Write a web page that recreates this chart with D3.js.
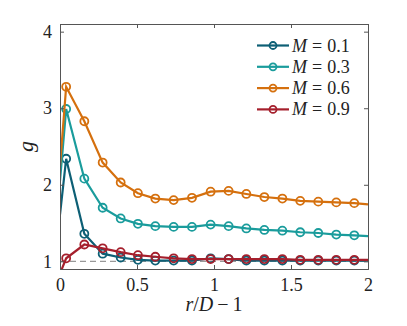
<!DOCTYPE html>
<html>
<head>
<meta charset="utf-8">
<script src="https://cdn.jsdelivr.net/npm/d3@7"></script>
<style>
  body { margin: 0; background: #fff; }
  svg { display: block; }
</style>
</head>
<body>
<svg id="chart" width="407" height="326" font-family="Liberation Serif"></svg>
<script>
// marker positions along r/D - 1
const xMarkers = [0.04, 0.158, 0.277, 0.394, 0.506, 0.619, 0.738, 0.857, 0.978,
                  1.095, 1.21, 1.327, 1.444, 1.56, 1.677, 1.794, 1.911];

// series names and colours
const labels = ["0.1", "0.3", "0.6", "0.9"];
const colors = ["#0d5f75", "#1a9c9c", "#d5700e", "#a51f2c"];

// g at r/D-1 = 0 (line only), at markers, and at r/D-1 = 2 (line only)
const gStart = [1.61, 2.05, 2.25, 0.84];
const gEnd = [1.01, 1.33, 1.745, 1.02];
const gM01 = [2.34, 1.36, 1.10, 1.05, 1.02, 1.01, 1.01, 1.01, 1.04, 1.03, 1.01, 1.01, 1.01, 1.01, 1.01, 1.01, 1.01];
const gM03 = [2.99, 2.08, 1.70, 1.56, 1.49, 1.46, 1.45, 1.45, 1.48, 1.46, 1.43, 1.41, 1.40, 1.38, 1.37, 1.35, 1.34];
const gM06 = [3.28, 2.83, 2.29, 2.03, 1.89, 1.82, 1.80, 1.83, 1.91, 1.92, 1.88, 1.84, 1.82, 1.79, 1.78, 1.77, 1.76];
const gM09 = [1.04, 1.22, 1.17, 1.12, 1.08, 1.06, 1.04, 1.03, 1.03, 1.03, 1.03, 1.03, 1.03, 1.02, 1.02, 1.02, 1.02];
const gSeries = [gM01, gM03, gM06, gM09];

const xTicks = [0, 0.5, 1, 1.5, 2];
const yTicks = [1, 2, 3, 4];

const FONT = "Liberation Serif";
const svg = d3.select("#chart");
const margin = { left: 60, right: 39, top: 24, bottom: 57 };
const W = 407, H = 326;

const x = d3.scaleLinear().domain([0, 2]).range([margin.left, W - margin.right]);
const y = d3.scaleLinear().domain([0.9, 4.1]).range([H - margin.bottom, margin.top]);

svg.append("defs").append("clipPath").attr("id", "clip")
  .append("rect")
  .attr("x", x(0)).attr("y", y(4.1))
  .attr("width", x(2) - x(0)).attr("height", y(0.9) - y(4.1));

// reference line g = 1
svg.append("line")
  .attr("x1", x(0)).attr("x2", x(2))
  .attr("y1", y(1)).attr("y2", y(1))
  .attr("stroke", "#999").attr("stroke-width", 1.2)
  .attr("stroke-dasharray", "6,4");

const line = d3.line().x(d => x(d[0])).y(d => y(d[1]));
const plot = svg.append("g").attr("clip-path", "url(#clip)");

gSeries.forEach((vals, i) => {
  const pts = [[0, gStart[i]]].concat(vals.map((v, k) => [xMarkers[k], v]), [[2, gEnd[i]]]);
  plot.append("path")
    .attr("d", line(pts))
    .attr("fill", "none")
    .attr("stroke", colors[i])
    .attr("stroke-width", 2.2);
  plot.append("g").selectAll("circle")
    .data(vals)
    .join("circle")
      .attr("cx", (d, k) => x(xMarkers[k]))
      .attr("cy", d => y(d))
      .attr("r", 4)
      .attr("fill", "none")
      .attr("stroke", colors[i])
      .attr("stroke-width", 1.8);
});

// axes box
const axisColor = "#555";
const tickLen = 4;
const fmt = d3.format("");
const axBottom = svg.append("g").attr("transform", `translate(0,${y(0.9)})`)
  .call(d3.axisBottom(x).tickValues(xTicks).tickSize(-tickLen).tickPadding(9).tickFormat(fmt));
const axTop = svg.append("g").attr("transform", `translate(0,${y(4.1)})`)
  .call(d3.axisTop(x).tickValues(xTicks).tickSize(-tickLen).tickFormat(""));
const axLeft = svg.append("g").attr("transform", `translate(${x(0)},0)`)
  .call(d3.axisLeft(y).tickValues(yTicks).tickSize(-tickLen).tickPadding(8).tickFormat(fmt));
const axRight = svg.append("g").attr("transform", `translate(${x(2)},0)`)
  .call(d3.axisRight(y).tickValues(yTicks).tickSize(-tickLen).tickFormat(""));

[axBottom, axTop, axLeft, axRight].forEach(g => {
  g.attr("font-family", FONT).attr("font-size", 18);
  g.select(".domain").attr("stroke", axisColor).attr("stroke-width", 1);
  g.selectAll(".tick line").attr("stroke", axisColor);
  g.selectAll("text").attr("fill", "#222");
});

// axis labels
const xLab = svg.append("text")
  .attr("x", x(1)).attr("y", 311)
  .attr("text-anchor", "middle")
  .attr("font-size", 20).attr("fill", "#222");
xLab.append("tspan").attr("font-style", "italic").text("r");
xLab.append("tspan").text("/");
xLab.append("tspan").attr("font-style", "italic").text("D");
xLab.append("tspan").attr("dx", 4).text("\u2212");
xLab.append("tspan").attr("dx", 4).text("1");

svg.append("text")
  .attr("transform", `translate(33,${y(2.5)}) rotate(-90)`)
  .attr("text-anchor", "middle")
  .attr("font-size", 22).attr("font-style", "italic").attr("fill", "#222")
  .text("g");

// legend
const legend = svg.append("g");
labels.forEach((lab, i) => {
  const ly = 45.5 + i * 21.3;
  legend.append("line")
    .attr("x1", 257).attr("x2", 289).attr("y1", ly).attr("y2", ly)
    .attr("stroke", colors[i]).attr("stroke-width", 2.2);
  legend.append("circle")
    .attr("cx", 273).attr("cy", ly).attr("r", 3.5)
    .attr("fill", "none").attr("stroke", colors[i]).attr("stroke-width", 1.8);
  const t = legend.append("text")
    .attr("x", 292).attr("y", ly + 6)
    .attr("font-size", 18).attr("fill", "#222");
  t.append("tspan").attr("font-style", "italic").text("M");
  t.append("tspan").attr("dx", 5).text("=");
  t.append("tspan").attr("dx", 5).text(lab);
});

svg.selectAll("text").attr("font-family", FONT);
</script>
</body>
</html>
